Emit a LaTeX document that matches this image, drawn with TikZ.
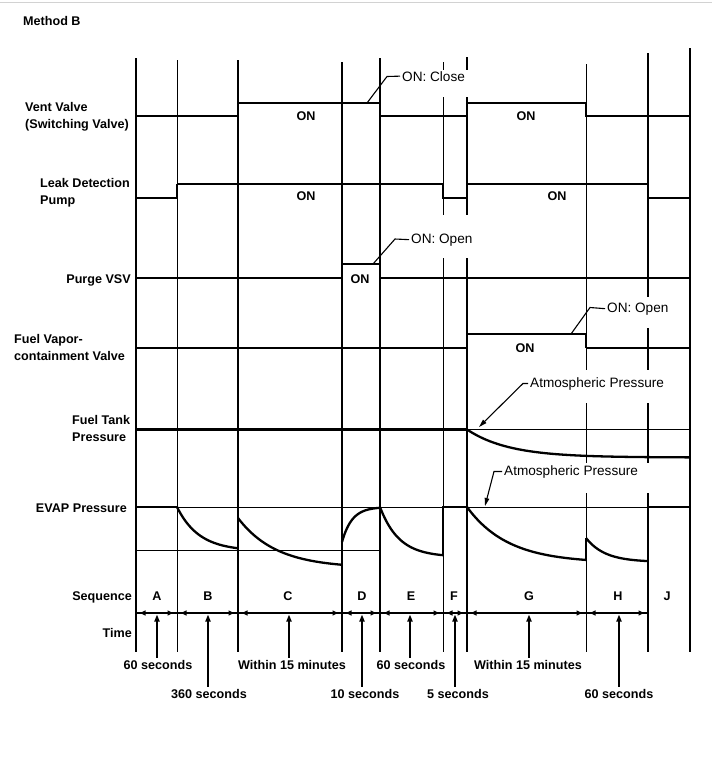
\documentclass[tikz,border=0pt]{standalone}
\usepackage{fontspec}
\setmainfont{Liberation Sans}
\usetikzlibrary{arrows.meta}
\begin{document}
\begin{tikzpicture}[x=1pt,y=-1pt,
  thickv/.style={line width=2.7pt},
  thinv/.style={line width=1pt},
  sig/.style={line width=2.5pt,line join=miter},
  medsig/.style={line width=1.6pt},
  refl/.style={line width=1pt},
  curve/.style={line width=2.3pt,line join=round},
  lbl/.style={font=\bfseries\fontsize{12.6}{15}\selectfont,inner sep=0pt},
  ann/.style={font=\fontsize{13.6}{16}\selectfont,inner xsep=2pt,inner ysep=0pt,anchor=base west},
  lead/.style={line width=1.1pt},
  leadarrow/.style={line width=1.1pt,-{Triangle[length=8pt,width=4.5pt]}},
  uparrow/.style={line width=2pt,-{Triangle[length=7pt,width=5pt]},shorten <=2pt},
  dimarr/.style={line width=2pt,{Triangle[length=5.5pt,width=5pt]}-{Triangle[length=5.5pt,width=5pt]},shorten <=4pt,shorten >=4pt},
]
\useasboundingbox (0,0) rectangle (712,782);
\fill[white] (0,0) rectangle (712,782);
\draw[gray!35,line width=1pt] (0,2.5) -- (712,2.5);

% vertical phase boundaries
\foreach \x/\t in {136/58,238/60,342/62,380/58,467/57,648/53,690/48}
  \draw[thickv] (\x,\t) -- (\x,652);
\foreach \x/\t in {177/60,443/62,586/64}
  \draw[thinv] (\x,\t) -- (\x,652);

% gaps left by the labels
\fill[white] (439,70) rectangle (471,97);
\fill[white] (439,215) rectangle (471,258);
\fill[white] (644,297) rectangle (652,328);
\fill[white] (582,370) rectangle (652,403);
\fill[white] (582,463) rectangle (652,493);

% Vent valve
\draw[sig] (136,116) -- (238,116) -- (238,103) -- (380,103) -- (380,116) -- (467,116)
  -- (467,103) -- (586,103) -- (586,116) -- (690,116);
% Leak detection pump
\draw[sig] (136,198) -- (177,198) -- (177,184);
\draw[medsig] (177,184) -- (443,184);
\draw[sig] (443,184) -- (443,198) -- (467,198) -- (467,184);
\draw[medsig] (467,184) -- (648,184);
\draw[sig] (648,184) -- (648,198) -- (690,198);
% Purge VSV
\draw[medsig] (136,278) -- (342,278);
\draw[sig] (342,278) -- (342,264) -- (380,264) -- (380,278);
\draw[medsig] (380,278) -- (690,278);
% Fuel vapor-containment valve
\draw[medsig] (136,348) -- (467,348);
\draw[sig] (467,348) -- (467,334) -- (586,334) -- (586,348);
\draw[medsig] (586,348) -- (690,348);
% Fuel tank pressure
\draw[sig] (136,429.5) -- (467,429.5);
\draw[refl] (467,429.5) -- (690,429.5);
\draw[curve] plot[domain=467:690,samples=60] (\x,{429.5+28*(1-exp(-(\x-467)/42))});
% EVAP pressure
\draw[refl] (136,507) -- (690,507);
\draw[refl] (136,550) -- (380,550);
\draw[sig] (136,507) -- (177,507);
\draw[curve] plot[domain=177:238,samples=40] (\x,{507+44*(1-exp(-(\x-177)/22))});
\draw[curve] plot[domain=238:342,samples=50] (\x,{518+50*(1-exp(-(\x-238)/38))});
\draw[curve] (342,565) -- (342,542);
\draw[curve] plot[domain=342:380,samples=40] (\x,{507+35*exp(-(\x-342)/10)});
\draw[curve] plot[domain=380:443,samples=40] (\x,{507+50*(1-exp(-(\x-380)/19))});
\draw[sig] (443,555.5) -- (443,507) -- (467,507);
\draw[curve] plot[domain=467:586,samples=60] (\x,{507+56*(1-exp(-(\x-467)/41))});
\draw[curve] (586,560) -- (586,538);
\draw[curve] plot[domain=586:648,samples=40] (\x,{538+24*(1-exp(-(\x-586)/19))});
\draw[sig] (648,507) -- (690,507);

% left labels
\node[lbl,anchor=base west] (mb) at (23,25) {Method B};
\node[lbl,anchor=base west] (vv1) at (25,111) {Vent Valve};
\node[lbl,anchor=base west] (vv2) at (25,128) {(Switching Valve)};
\node[lbl,anchor=base west] (ld1) at (40,187) {Leak Detection};
\node[lbl,anchor=base west] (ld2) at (40,204) {Pump};
\node[lbl,anchor=base east] (pv) at (131,283) {Purge VSV};
\node[lbl,anchor=base west] (fv1) at (14,343) {Fuel Vapor-};
\node[lbl,anchor=base west] (fv2) at (14,360) {containment Valve};
\node[lbl,anchor=base west] (ft1) at (72,424) {Fuel Tank};
\node[lbl,anchor=base west] (ft2) at (72,441) {Pressure};
\node[lbl,anchor=base east] (ev) at (127,512) {EVAP Pressure};
\node[lbl,anchor=base east] (sq) at (132,600) {Sequence};
\node[lbl,anchor=base east] (tm) at (132,637) {Time};

% ON labels
\node[lbl,anchor=base] (on1) at (306,120) {ON};
\node[lbl,anchor=base] (on2) at (526,120) {ON};
\node[lbl,anchor=base] (on3) at (306,200) {ON};
\node[lbl,anchor=base] (on4) at (557,200) {ON};
\node[lbl,anchor=base] (on5) at (360,283) {ON};
\node[lbl,anchor=base] (on6) at (525,352) {ON};

% annotations
\node[ann] (onclose) at (400,81) {ON: Close};
\coordinate (cl1) at (387,76.5);
\coordinate (cl2) at (367,103);
\draw[lead] (onclose.west) -- (cl1) -- (cl2);
\node[ann] (onopen1) at (409,243) {ON: Open};
\coordinate (op1a) at (395,239);
\coordinate (op1b) at (373,264);
\draw[lead] (onopen1.west) -- (op1a) -- (op1b);
\node[ann] (onopen2) at (605,312) {ON: Open};
\coordinate (op2a) at (590,307.5);
\coordinate (op2b) at (571,334);
\draw[lead] (onopen2.west) -- (op2a) -- (op2b);
\node[ann] (atm1) at (528,387) {Atmospheric Pressure};
\coordinate (at1) at (479,427);
\draw[leadarrow] (atm1.west) -- ++(-5,0) -- (at1);
\node[ann] (atm2) at (502,475) {Atmospheric Pressure};
\coordinate (at2) at (485,506);
\draw[leadarrow] (atm2.west) -- ++(-8,0) -- (at2);

% sequence letters
\foreach \x/\s in {157/A,208/B,288/C,362/D,411/E,454/F,529/G,618/H,667/J}
  \node[lbl,anchor=base] (seq\s) at (\x,600) {\s};

% time axis
\draw[line width=2pt] (136,613) -- (648,613);
\foreach \a/\b in {136/177,177/238,238/342,342/380,380/443,443/467,467/586,586/648}
  \draw[dimarr] (\a,613) -- (\b,613);

% durations
\node[lbl,anchor=base] (t60a) at (158,669) {60 seconds};
\node[lbl,anchor=base] (t360) at (209,698) {360 seconds};
\node[lbl,anchor=base] (tw1) at (292,669) {Within 15 minutes};
\node[lbl,anchor=base] (t10) at (365,698) {10 seconds};
\node[lbl,anchor=base] (t60e) at (411,669) {60 seconds};
\node[lbl,anchor=base] (t5) at (458,698) {5 seconds};
\node[lbl,anchor=base] (tw2) at (528,669) {Within 15 minutes};
\node[lbl,anchor=base] (t60h) at (619,698) {60 seconds};

\coordinate (pA) at (157,614.5);
\coordinate (pB) at (208,614.5);
\coordinate (pC) at (289,614.5);
\coordinate (pD) at (362,614.5);
\coordinate (pE) at (410,614.5);
\coordinate (pF) at (455,614.5);
\coordinate (pG) at (529,614.5);
\coordinate (pH) at (619,614.5);
\draw[uparrow] (pA |- t60a.north) -- (pA);
\draw[uparrow] (pB |- t360.north) -- (pB);
\draw[uparrow] (pC |- tw1.north) -- (pC);
\draw[uparrow] (pD |- t10.north) -- (pD);
\draw[uparrow] (pE |- t60e.north) -- (pE);
\draw[uparrow] (pF |- t5.north) -- (pF);
\draw[uparrow] (pG |- tw2.north) -- (pG);
\draw[uparrow] (pH |- t60h.north) -- (pH);
\end{tikzpicture}
\end{document}
